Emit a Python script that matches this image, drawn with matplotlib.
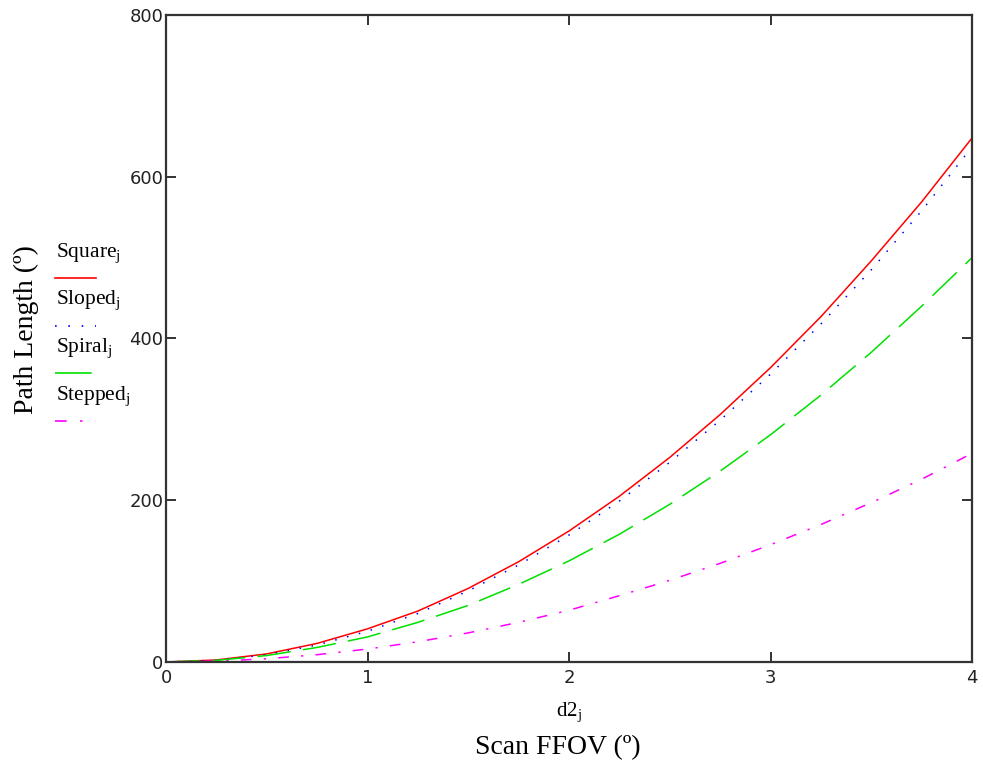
import matplotlib
matplotlib.use("Agg")
import matplotlib.pyplot as plt
from matplotlib.lines import Line2D

# values (scan FFOV in deg vs path length in deg)
d2 = [0, 0.25, 0.5, 0.75, 1, 1.25, 1.5, 1.75, 2, 2.25, 2.5, 2.75, 3, 3.25, 3.5, 3.75, 4]
square = [0, 2.5, 10, 23, 41, 63, 91, 124, 162, 205, 253, 306, 364, 427, 496, 569, 648]
sloped = [0, 2, 9, 21, 38, 60, 88, 120, 157, 199, 247, 299, 356, 418, 485, 558, 637]
spiral = [0, 2, 8, 18, 31, 49, 70, 96, 125, 158, 195, 236, 281, 330, 383, 440, 500]
stepped = [0, 1, 4, 9, 16, 25, 36, 49, 64, 82, 101, 122, 145, 170, 197, 226, 258]

labels = ["Square", "Sloped", "Spiral", "Stepped"]
serif = "Liberation Serif"
sans = "DejaVu Sans"

fig = plt.figure(figsize=(9.83, 7.8), dpi=100)
ax = fig.add_axes([0.1689, 0.1513, 0.82, 0.8295])

styles = [
    dict(color="red", linestyle="-"),
    dict(color="blue", linestyle=(0, (1, 7))),
    dict(color="#00e000", linestyle=(0, (22, 8))),
    dict(color="magenta", linestyle=(0, (7, 8, 1.5, 8))),
]
for ys, st in zip([square, sloped, spiral, stepped], styles):
    ax.plot(d2, ys, linewidth=1.1, **st)

ax.set_xlim(0, 4)
ax.set_ylim(0, 800)
ax.set_xticks([0, 1, 2, 3, 4])
ax.set_yticks([0, 200, 400, 600, 800])
ax.tick_params(direction="in", length=7, width=1.3, top=True, right=True,
               labelsize=13, colors="#222222")
ax.tick_params(axis="y", pad=2)
ax.tick_params(axis="x", pad=5)
for lab in ax.get_xticklabels() + ax.get_yticklabels():
    lab.set_family(sans)
for sp in ax.spines.values():
    sp.set_linewidth(1.6)
    sp.set_color("#333333")

ax.set_xlabel(r"d2$_{\mathregular{j}}$", family=serif, fontsize=15, labelpad=10)
fig.text(0.567, 0.041, "Scan FFOV (º)", family=serif, fontsize=20,
         ha="center", va="center")
fig.text(0.027, 0.577, "Path Length (º)", family=serif, fontsize=20,
         rotation=90, va="center", ha="center")

# legend drawn by hand, stacked left of the axes
for i, (lab, st) in enumerate(zip(labels, styles)):
    yb = 1 - (257 + i * 47.7) / 780
    fig.text(0.057, yb, lab + r"$_{\mathregular{j}}$", family=serif, fontsize=15.5,
             va="baseline")
    yl = yb - 21 / 780
    fig.add_artist(Line2D([0.056, 0.098], [yl, yl],
                          transform=fig.transFigure, linewidth=1.2, **st))

fig.savefig("out.png", dpi=100)
